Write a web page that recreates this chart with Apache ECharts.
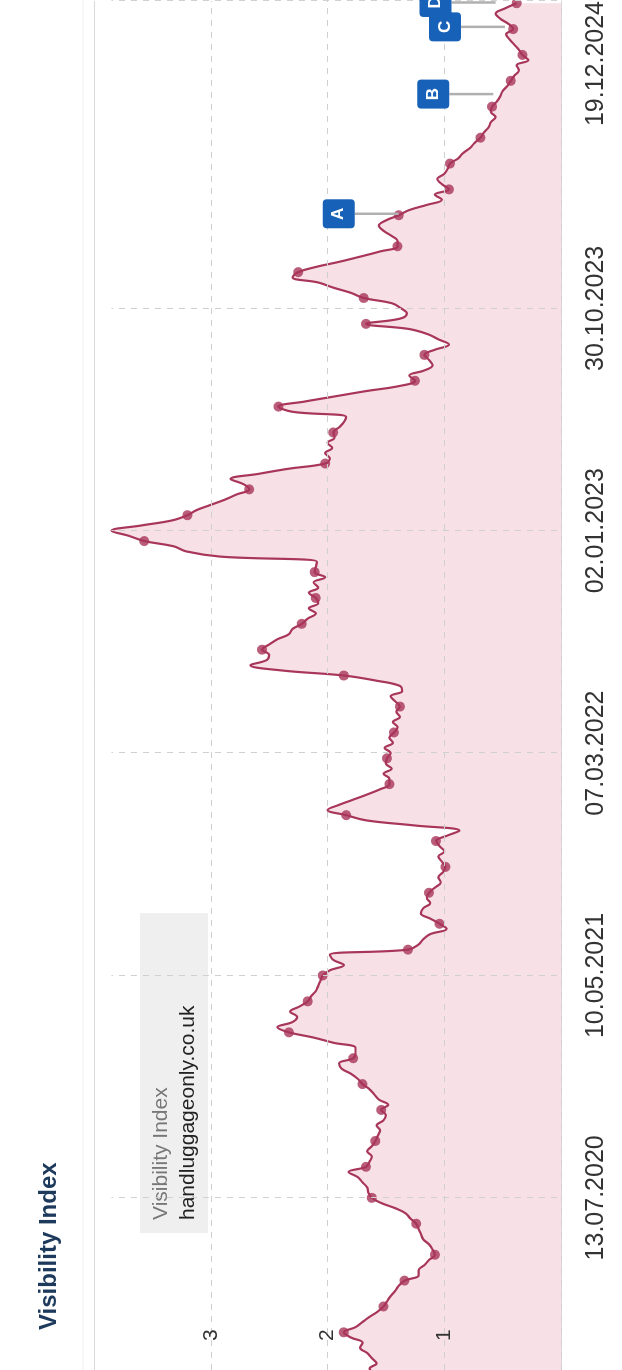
<!DOCTYPE html>
<html>
<head>
<meta charset="utf-8">
<title>Visibility Index</title>
<script src="https://cdn.jsdelivr.net/npm/echarts@6/dist/echarts.min.js"></script>
<style>
  html, body { margin: 0; padding: 0; width: 622px; height: 1370px; overflow: hidden; background: #fff; }
  /* the chart is laid out landscape and turned a quarter turn counter-clockwise */
  #chart { position: absolute; left: 0; top: 0; width: 1370px; height: 622px;
           transform-origin: 0 0; transform: translateY(1370px) rotate(-90deg); }
</style>
</head>
<body>
<div id="chart"></div>
<script>
// weekly visibility values, one per Monday starting at firstWeek
const firstWeek = '2019-11-18';
const visibility = [
  1.60, 1.64, 1.58, 1.62, 1.66, 1.72, 1.70, 1.80, 1.86, 1.76,
  1.70, 1.64, 1.57, 1.52, 1.49, 1.46, 1.42, 1.39, 1.34, 1.22,
  1.22, 1.17, 1.13, 1.08, 1.10, 1.13, 1.18, 1.20, 1.22, 1.24,
  1.29, 1.33, 1.42, 1.54, 1.62, 1.65, 1.66, 1.70, 1.74, 1.82,
  1.67, 1.64, 1.62, 1.66, 1.62, 1.59, 1.57, 1.55, 1.58, 1.52,
  1.50, 1.54, 1.48, 1.56, 1.60, 1.64, 1.70, 1.74, 1.80, 1.88,
  1.90, 1.78, 1.76, 1.76, 1.95, 2.12, 2.33, 2.43, 2.30, 2.26,
  2.32, 2.24, 2.17, 2.14, 2.10, 2.08, 2.06, 2.04, 1.98, 1.86,
  1.95, 1.98, 1.31, 1.22, 1.18, 1.12, 0.98, 1.04, 1.12, 1.20,
  1.18, 1.12, 1.15, 1.13, 1.08, 1.03, 1.05, 1.01, 0.99, 1.02,
  1.05, 1.00, 1.04, 1.07, 0.98, 0.87, 1.25, 1.67, 1.84, 2.00,
  1.90, 1.78, 1.66, 1.55, 1.47, 1.47, 1.52, 1.45, 1.50, 1.49,
  1.46, 1.51, 1.44, 1.47, 1.43, 1.40, 1.44, 1.38, 1.41, 1.38,
  1.42, 1.46, 1.36, 1.38, 1.58, 1.86, 2.40, 2.66, 2.52, 2.50,
  2.56, 2.50, 2.43, 2.33, 2.30, 2.22, 2.17, 2.10, 2.16, 2.08,
  2.10, 2.16, 2.08, 2.12, 2.02, 2.11, 2.10, 2.09, 2.92, 3.21,
  3.32, 3.57, 3.70, 3.85, 3.60, 3.33, 3.20, 3.12, 3.00, 2.88,
  2.78, 2.67, 2.72, 2.83, 2.59, 2.33, 2.02, 1.98, 2.02, 1.96,
  2.00, 1.94, 1.95, 1.90, 1.86, 1.84, 2.30, 2.42, 2.19, 1.93,
  1.67, 1.38, 1.25, 1.30, 1.17, 1.10, 1.13, 1.17, 1.08, 0.96,
  1.05, 1.14, 1.30, 1.67, 1.38, 1.32, 1.37, 1.45, 1.69, 1.80,
  1.95, 2.08, 2.30, 2.25, 2.10, 1.90, 1.72, 1.55, 1.40, 1.40,
  1.45, 1.52, 1.56, 1.50, 1.39, 1.30, 1.15, 1.02, 1.08, 0.96,
  1.02, 1.06, 1.00, 0.97, 0.95, 0.88, 0.84, 0.78, 0.74, 0.69,
  0.66, 0.62, 0.60, 0.56, 0.60, 0.59, 0.55, 0.52, 0.50, 0.46,
  0.43, 0.40, 0.36, 0.38, 0.28, 0.33, 0.36, 0.40, 0.44, 0.47,
  0.41, 0.45, 0.52, 0.56, 0.48, 0.38
];
// weeks (index into visibility) that carry a dot
const markerWeeks = [
  8, 13, 18, 23, 29, 34, 40, 45, 51, 56, 61, 66, 72, 77, 82, 87, 93, 98,
  103, 108, 114, 119, 124, 129, 135, 140, 145, 150, 155, 161, 166, 171,
  176, 182, 187, 192, 197, 203, 208, 213, 218, 224, 229, 234, 239, 245,
  250, 255, 260, 265
];
// date axis
const axisStart = '2019-11-23';
const axisEnd = '2024-12-19';
const tickDates = ['2020-07-13', '2021-05-10', '2022-03-07', '2023-01-02', '2023-10-30', '2024-12-19'];
const valueTicks = [0, 1, 2, 3, 4];
// event flags
const flagLabels = ['A', 'B', 'C', 'D'];
const flagDates = ['2024-03-06', '2024-08-15', '2024-11-14', '2024-12-17'];
const flagValues = [1.39, 0.58, 0.48, 0.56];

const FONT = "'Liberation Sans', Arial, sans-serif";
const LINE = '#a8355a';

function toTime(s) {
  const [y, m, d] = s.split('-').map(Number);
  return new Date(y, m - 1, d).getTime();
}
function weekTime(i) {
  const [y, m, d] = firstWeek.split('-').map(Number);
  return new Date(y, m - 1, d + 7 * i).getTime();
}
function pad(n) { return (n < 10 ? '0' : '') + n; }
function formatDate(v) {
  const d = new Date(v);
  return pad(d.getDate()) + '.' + pad(d.getMonth() + 1) + '.' + d.getFullYear();
}

const lineData = visibility.map((v, i) => [weekTime(i), v]);
const dotData = markerWeeks.map(i => [weekTime(i), visibility[i]]);
// later flags are drawn first so earlier ones sit on top where they overlap
const flagOrder = flagLabels.map((_, i) => i).reverse();
const flagData = flagOrder.map(i => [toTime(flagDates[i]), flagValues[i]]);

// dashed date grid lines stop a little short of the plot edges
const vMax = valueTicks[valueTicks.length - 1];
const dateGrid = tickDates.map(d => [
  { coord: [toTime(d), 0.035] },
  { coord: [toTime(d), 3.85] }
]);

const chart = echarts.init(document.getElementById('chart'), null, { renderer: 'canvas' });

chart.setOption({
  animation: false,
  backgroundColor: '#fff',
  textStyle: { fontFamily: FONT },
  grid: { left: 0, right: 1, top: 94, bottom: 61, containLabel: false, outerBoundsMode: 'none' },
  xAxis: {
    type: 'value',
    min: toTime(axisStart),
    max: toTime(axisEnd),
    axisLine: { show: true, lineStyle: { color: '#d8d8d8', width: 1 } },
    axisTick: { show: false },
    splitLine: { show: false },
    axisLabel: {
      customValues: tickDates.map(toTime),
      formatter: formatDate,
      fontSize: 25,
      color: '#333',
      margin: 23,
      fontFamily: FONT,
      alignMaxLabel: 'right',
      hideOverlap: false
    }
  },
  yAxis: {
    type: 'value',
    min: valueTicks[0],
    max: vMax,
    interval: 1,
    z: 5,
    axisLine: { show: false },
    axisTick: { show: false },
    splitLine: { show: true, lineStyle: { color: '#cfcfcf', width: 1, type: [6, 6] } },
    axisLabel: {
      inside: true,
      margin: 29,
      fontSize: 21,
      color: '#333',
      fontFamily: FONT,
      showMinLabel: false,
      showMaxLabel: false
    }
  },
  graphic: [
    {
      type: 'line', z: 0,
      shape: { x1: 0, y1: 83, x2: 1370, y2: 83 },
      style: { stroke: '#efefef', lineWidth: 1 }
    },
    {
      type: 'text', left: 40, top: 37,
      style: { text: 'Visibility Index', font: 'bold 24px ' + FONT, fill: '#1d3a5c' }
    },
    {
      type: 'rect', z: 1,
      shape: { x: 137, y: 140, width: 320, height: 68 },
      style: { fill: '#efefef' }
    },
    {
      type: 'text', z: 2, x: 150, y: 161,
      style: { text: 'Visibility Index', font: '21px ' + FONT, fill: '#777', verticalAlign: 'middle' }
    },
    {
      type: 'text', z: 2, x: 150, y: 188,
      style: { text: 'handluggageonly.co.uk', font: '21px ' + FONT, fill: '#222', verticalAlign: 'middle' }
    }
  ],
  series: [
    {
      name: 'Visibility Index',
      type: 'line',
      data: lineData,
      smooth: 0.4,
      showSymbol: false,
      lineStyle: { color: LINE, width: 2.2 },
      areaStyle: { color: 'rgba(200, 40, 80, 0.2)', origin: 'start' },
      z: 2,
      markLine: {
        silent: true,
        symbol: ['none', 'none'],
        label: { show: false },
        lineStyle: { color: '#d0d0d0', width: 1, type: [6, 6] },
        data: dateGrid.concat([
          { yAxis: vMax, lineStyle: { color: '#d8d8d8', type: 'solid', width: 1 } }
        ])
      }
    },
    {
      name: 'points',
      type: 'scatter',
      data: dotData,
      symbol: 'circle',
      symbolSize: 10,
      itemStyle: { color: LINE },
      z: 3
    },
    {
      name: 'events',
      type: 'custom',
      data: flagData,
      clip: false,
      z: 6,
      renderItem: function (params, api) {
        const p = api.coord([api.value(0), api.value(1)]);
        const w = 29, h = 32, lift = 60;
        const cy = p[1] - lift;
        return {
          type: 'group',
          children: [
            { type: 'line', shape: { x1: p[0], y1: p[1], x2: p[0], y2: cy + h / 2 },
              style: { stroke: '#b0b0b0', lineWidth: 2.5 } },
            { type: 'rect', shape: { x: p[0] - w / 2, y: cy - h / 2, width: w, height: h, r: 4 },
              style: { fill: '#1762b8' } },
            { type: 'text', style: { x: p[0], y: cy, text: flagLabels[flagOrder[params.dataIndex]],
              font: 'bold 17px ' + FONT, fill: '#fff', align: 'center', verticalAlign: 'middle' } }
          ]
        };
      }
    }
  ]
});
</script>
</body>
</html>
